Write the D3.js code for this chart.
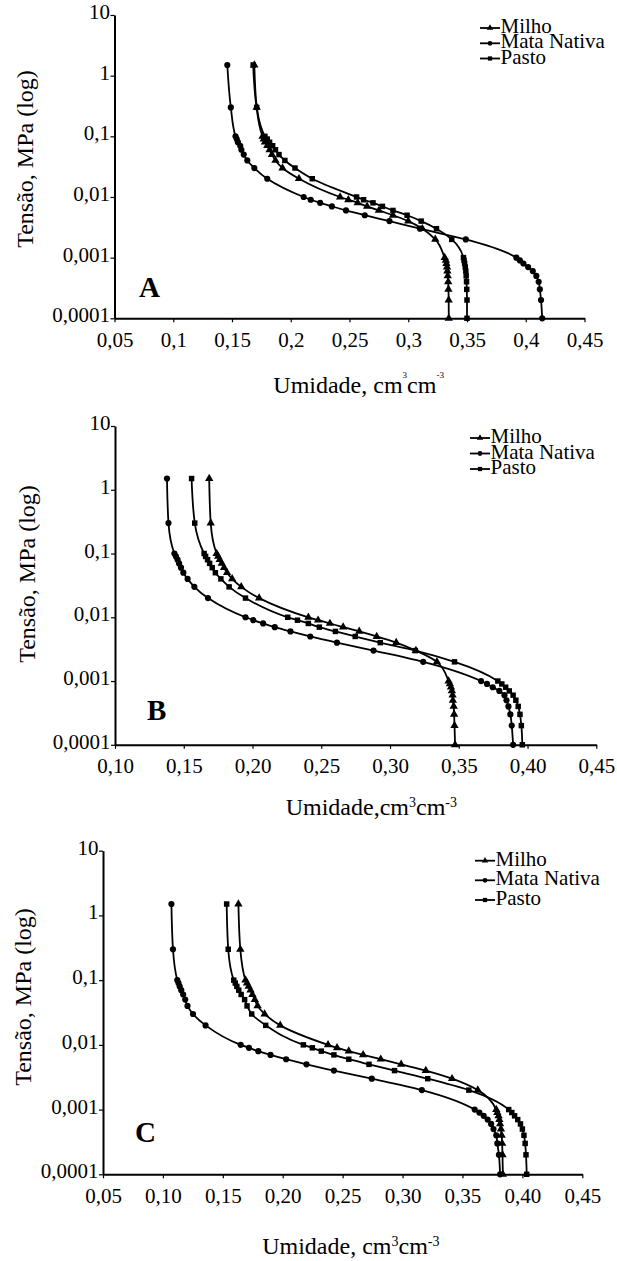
<!DOCTYPE html>
<html lang="pt">
<head>
<meta charset="UTF-8">
<title>Curvas de retenção</title>
<script src="https://cdn.jsdelivr.net/npm/d3@7"></script>
<style>
  body { margin: 0; background: #fff; }
</style>
</head>
<body>
<svg id="chart" width="617" height="1261"></svg>
<script>
// tensão (MPa) em cada ponto medido, do mais seco ao mais úmido
const tension = [1.5, 0.3, 0.1, 0.09, 0.08, 0.07, 0.06, 0.05, 0.04, 0.03, 0.02,
  0.01, 0.009, 0.008, 0.007, 0.006, 0.005, 0.004, 0.003, 0.002,
  0.001, 0.0009, 0.0008, 0.0007, 0.0006, 0.0005, 0.0004, 0.0003, 0.0002, 0.0001];

const series = ["Milho", "Mata Nativa", "Pasto"];

// painel A
const milhoA = [0.169, 0.171, 0.176, 0.177, 0.178, 0.180, 0.182, 0.184, 0.187, 0.193, 0.207,
  0.242, 0.249, 0.257, 0.265, 0.275, 0.287, 0.300, 0.312, 0.323,
  0.331, 0.332, 0.3325, 0.333, 0.3333, 0.3336, 0.334, 0.3342, 0.3344, 0.3345];
const mataA = [0.146, 0.149, 0.153, 0.154, 0.155, 0.157, 0.158, 0.160, 0.163, 0.169, 0.180,
  0.211, 0.217, 0.225, 0.235, 0.247, 0.263, 0.284, 0.310, 0.349,
  0.392, 0.395, 0.398, 0.402, 0.406, 0.409, 0.411, 0.412, 0.413, 0.414];
const pastoA = [0.168, 0.171, 0.178, 0.180, 0.182, 0.1846, 0.187, 0.190, 0.195, 0.2036, 0.2183,
  0.256, 0.262, 0.270, 0.278, 0.287, 0.299, 0.311, 0.324, 0.337,
  0.347, 0.3475, 0.348, 0.3485, 0.349, 0.3493, 0.3496, 0.3498, 0.350, 0.350];

// painel B
const milhoB = [0.1685, 0.1696, 0.1739, 0.175, 0.1761, 0.1776, 0.1793, 0.1815, 0.1852, 0.1918, 0.2048,
  0.2406, 0.2477, 0.2563, 0.2659, 0.2776, 0.2903, 0.3045, 0.3188, 0.3341,
  0.3426, 0.3435, 0.3443, 0.345, 0.3455, 0.3457, 0.3463, 0.3466, 0.3469, 0.3473];
const mataB = [0.1378, 0.1389, 0.1432, 0.1443, 0.1455, 0.1466, 0.148, 0.1497, 0.1528, 0.1577, 0.1676,
  0.1949, 0.2006, 0.2077, 0.2162, 0.2276, 0.242, 0.2614, 0.288, 0.3241,
  0.3662, 0.3705, 0.3747, 0.3795, 0.3832, 0.3847, 0.3861, 0.3875, 0.3885, 0.3895];
const pastoB = [0.1557, 0.158, 0.1648, 0.1659, 0.1673, 0.1688, 0.1707, 0.173, 0.177, 0.183, 0.1949,
  0.2256, 0.2327, 0.2406, 0.2486, 0.2603, 0.2747, 0.2929, 0.3184, 0.3469,
  0.3784, 0.3813, 0.3841, 0.3867, 0.3895, 0.3915, 0.3932, 0.3945, 0.3955, 0.3962];

// painel C
const milhoC = [0.163, 0.1646, 0.1689, 0.1702, 0.1715, 0.1731, 0.1747, 0.1767, 0.179, 0.1849, 0.1979,
  0.2378, 0.2453, 0.2551, 0.2671, 0.2818, 0.2988, 0.3194, 0.3413, 0.3628,
  0.3782, 0.3791, 0.3801, 0.3808, 0.3814, 0.3821, 0.3827, 0.3831, 0.3834, 0.3837];
const mataC = [0.1071, 0.1084, 0.112, 0.113, 0.114, 0.1153, 0.1169, 0.1186, 0.1205, 0.1251, 0.1356,
  0.1649, 0.1718, 0.1796, 0.1898, 0.2028, 0.2198, 0.2427, 0.2743, 0.3161,
  0.3602, 0.3641, 0.3677, 0.371, 0.3739, 0.3759, 0.3782, 0.3791, 0.3804, 0.3814];
const pastoC = [0.1532, 0.1545, 0.1591, 0.1604, 0.1617, 0.1633, 0.1653, 0.1682, 0.1702, 0.1741, 0.1858,
  0.2172, 0.2247, 0.2322, 0.2427, 0.2551, 0.272, 0.2933, 0.321, 0.3553,
  0.3886, 0.3912, 0.3935, 0.3961, 0.3984, 0.40, 0.4013, 0.4023, 0.403, 0.4036];

// ticks
const yTicks = [10, 1, 0.1, 0.01, 0.001, 0.0001];
const yLabels = ["10", "1", "0,1", "0,01", "0,001", "0,0001"];
const xLabelsA = ["0,05", "0,1", "0,15", "0,2", "0,25", "0,3", "0,35", "0,4", "0,45"];
const xLabelsB = ["0,10", "0,15", "0,20", "0,25", "0,30", "0,35", "0,40", "0,45"];
const xLabelsC = ["0,05", "0,10", "0,15", "0,20", "0,25", "0,30", "0,35", "0,40", "0,45"];

const FONT = "'Liberation Serif', 'Times New Roman', Times, serif";

const panels = [
  { letter: "A", data: [milhoA, mataA, pastoA], labels: xLabelsA,
    left: 114.5, right: 584.5, top: 15, bottom: 318.3,
    letterPos: [139, 296.7], ytitle: [33, 159],
    xtitle: { x: 273.3, y: 392.7, text: "Umidade, cm", sup: 9, dy: -14.5 },
    legend: { x: 480, lines: [28, 43.3, 58.5] } },
  { letter: "B", data: [milhoB, mataB, pastoB], labels: xLabelsB,
    left: 115, right: 596.3, top: 426, bottom: 744.8,
    letterPos: [147, 720], ytitle: [34.5, 574],
    xtitle: { x: 285.7, y: 815, text: "Umidade,cm", sup: 14, dy: -8 },
    legend: { x: 470, lines: [438, 453.5, 469] } },
  { letter: "C", data: [milhoC, mataC, pastoC], labels: xLabelsC,
    left: 103, right: 582.3, top: 850.7, bottom: 1174.3,
    letterPos: [135, 1141.7], ytitle: [30.6, 997],
    xtitle: { x: 262.2, y: 1254, text: "Umidade, cm", sup: 14, dy: -8 },
    legend: { x: 475, lines: [860.7, 880.3, 900] } }
];

const symbols = [d3.symbolTriangle, d3.symbolCircle, d3.symbolSquare];
const symSize = [30, 30, 30];

const svg = d3.select("#chart").attr("font-family", FONT);

panels.forEach(p => {
  const ticksX = p.labels.map(s => +s.replace(",", "."));
  const x = d3.scaleLinear().domain([ticksX[0], 0.45]).range([p.left, p.right]);
  const y = d3.scaleLog().domain([0.0001, 10]).range([p.bottom, p.top]);
  const g = svg.append("g");

  const xAxis = g.append("g")
    .attr("transform", `translate(0,${p.bottom})`)
    .call(d3.axisBottom(x).tickValues(ticksX).tickSize(4).tickSizeOuter(0)
      .tickFormat((d, i) => p.labels[i]));
  xAxis.attr("font-family", FONT).attr("font-size", 21);
  xAxis.select(".domain").attr("stroke-width", 2);
  xAxis.selectAll(".tick line").attr("stroke-width", 1.2);
  xAxis.selectAll(".tick text").attr("y", 28.4).attr("dy", 0);

  const yAxis = g.append("g")
    .attr("transform", `translate(${p.left},0)`)
    .call(d3.axisLeft(y).tickValues(yTicks).tickSize(4).tickSizeOuter(0)
      .tickFormat((d, i) => yLabels[i]));
  yAxis.attr("font-family", FONT).attr("font-size", 21);
  yAxis.select(".domain").attr("stroke-width", 2);
  yAxis.selectAll(".tick line").attr("stroke-width", 1.2);
  yAxis.selectAll(".tick text").attr("x", -4.5).attr("dy", "0.17em");
  g.selectAll(".domain").attr("stroke", "#000");
  g.selectAll(".tick line").attr("stroke", "#000");
  g.selectAll(".tick text").attr("fill", "#000");

  const line = d3.line()
    .x(d => x(d[0]))
    .y(d => y(d[1]))
    .curve(d3.curveMonotoneY);

  p.data.forEach((vals, k) => {
    const pts = vals.map((v, i) => [v, tension[i]]);
    g.append("path").datum(pts)
      .attr("fill", "none").attr("stroke", "#000").attr("stroke-width", 1.8)
      .attr("d", line);
    g.selectAll(null).data(pts).enter().append("path")
      .attr("transform", d => `translate(${x(d[0])},${y(d[1])})`)
      .attr("d", d3.symbol().type(symbols[k]).size(symSize[k]))
      .attr("fill", "#000");
  });

  // legenda
  series.forEach((name, k) => {
    const ly = p.legend.lines[k];
    g.append("line")
      .attr("x1", p.legend.x).attr("x2", p.legend.x + 20)
      .attr("y1", ly).attr("y2", ly)
      .attr("stroke", "#000").attr("stroke-width", 1.8);
    g.append("path")
      .attr("transform", `translate(${p.legend.x + 10},${ly})`)
      .attr("d", d3.symbol().type(symbols[k]).size(18))
      .attr("fill", "#000");
    g.append("text")
      .attr("x", p.legend.x + 20.5).attr("y", ly + 5)
      .attr("font-family", FONT).attr("font-size", 21)
      .text(name);
  });

  // letra do painel
  g.append("text")
    .attr("x", p.letterPos[0]).attr("y", p.letterPos[1])
    .attr("font-family", FONT).attr("font-size", 29).attr("font-weight", "bold")
    .text(p.letter);

  // título do eixo y
  g.append("text")
    .attr("transform", `translate(${p.ytitle[0]},${p.ytitle[1]}) rotate(-90)`)
    .attr("text-anchor", "middle")
    .attr("font-family", FONT).attr("font-size", 24)
    .text("Tensão, MPa (log)");

  // título do eixo x
  const t = p.xtitle;
  const xt = g.append("text")
    .attr("x", t.x).attr("y", t.y)
    .attr("font-family", FONT).attr("font-size", 24);
  xt.append("tspan").text(t.text);
  xt.append("tspan").attr("dy", t.dy).attr("font-size", t.sup).text("3");
  xt.append("tspan").attr("dy", -t.dy).text("cm");
  xt.append("tspan").attr("dy", t.dy).attr("font-size", t.sup).text("-3");
});
</script>
</body>
</html>
